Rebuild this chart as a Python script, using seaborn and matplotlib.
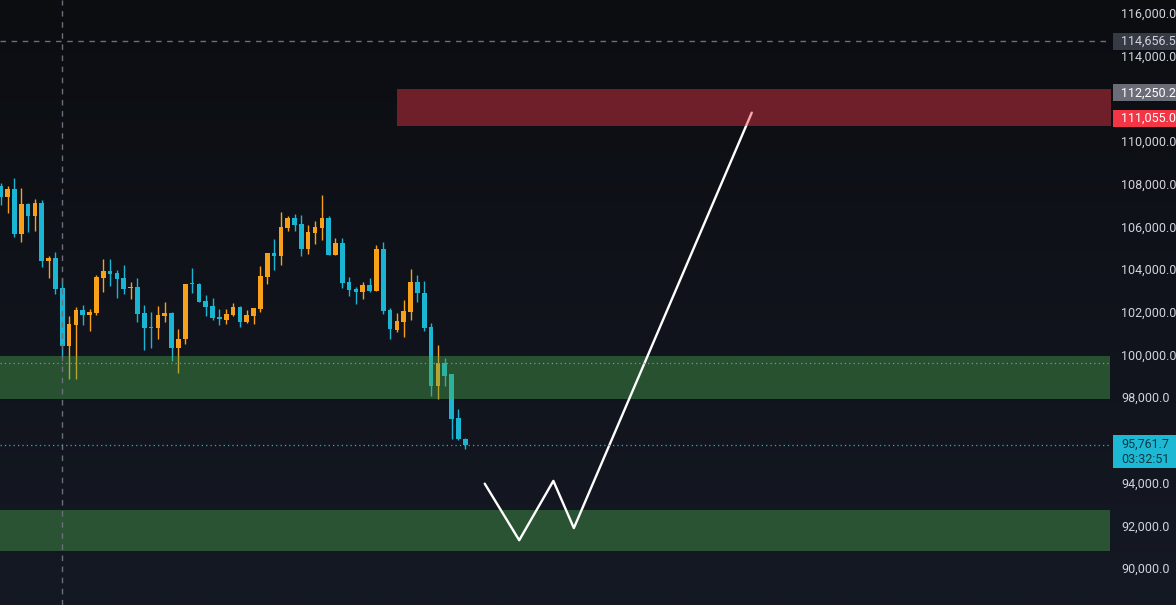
import numpy as np
import matplotlib
matplotlib.use("Agg")
import matplotlib.pyplot as plt
import matplotlib.transforms as mtransforms
from matplotlib.colors import LinearSegmentedColormap
from matplotlib.patches import Rectangle
import seaborn as sns

# ---- candle data (one bar per candle) ----
opens = [107886, 107371, 107746, 105639, 107043, 106481, 107090, 104375, 104515, 103110,
         100395, 101378, 102080, 101846, 101940, 103579, 103906, 103813, 103579, 103110,
         103157, 101940, 101285, 101238, 101800, 101940, 100301, 100723, 103345, 103298,
         102502, 102268, 101753, 101613, 101846, 102221, 101519, 101800, 102127, 103626,
         104750, 104609, 105920, 106388, 106107, 104937, 105686, 105920, 106388, 104656,
         105218, 103391, 103064, 102923, 103251, 102970, 104937, 102080, 101144, 101519,
         101987, 103391, 102877, 101285, 98522, 99599, 99084, 97024, 96041]
closes = [107371, 107746, 105639, 107043, 106481, 107090, 104375, 104515, 103064, 100395,
          101425, 102080, 101846, 101987, 103626, 103906, 103766, 103532, 103064, 103157,
          101893, 101238, 101238, 101846, 101940, 100301, 100723, 103298, 103298, 102455,
          102221, 101706, 101659, 101893, 102221, 101519, 101846, 102174, 103672, 104750,
          104609, 105967, 106388, 106060, 104937, 105732, 105967, 106388, 104656, 105218,
          103345, 103017, 102923, 103251, 102970, 104937, 102034, 101191, 101566, 102034,
          103391, 102877, 101238, 98522, 99599, 98991, 96977, 96041, 95762]
highs = [108027, 107886, 108261, 107793, 107090, 107277, 107231, 104609, 104796, 103579,
         101800, 102221, 102315, 102127, 103719, 104468, 104468, 103954, 104188, 103391,
         103579, 102315, 101987, 102268, 102455, 101987, 101191, 103298, 104047, 103345,
         102783, 102642, 102127, 102127, 102409, 102268, 102080, 102174, 104141, 104750,
         105405, 106669, 106481, 106576, 106529, 106060, 106248, 107465, 106481, 105452,
         105452, 103626, 103157, 103391, 103579, 105124, 105264, 102174, 101940, 102549,
         104000, 103719, 103439, 101472, 100442, 99833, 99084, 97446, 96088]
lows = [106997, 106622, 105498, 105264, 105732, 105779, 104094, 103579, 102829, 99880,
        98850, 98850, 101378, 101097, 101846, 102923, 103204, 102642, 102829, 102596,
        101519, 100208, 100301, 100723, 101519, 99693, 99131, 100489, 102877, 102455,
        101800, 101613, 101378, 101425, 101800, 101285, 101472, 101425, 101987, 103298,
        103954, 104188, 105779, 105779, 104609, 104703, 105171, 105358, 104656, 104656,
        103110, 102736, 102362, 102596, 102923, 102970, 101893, 100723, 101051, 100817,
        101613, 102455, 101097, 98054, 97914, 98522, 96041, 95994, 95573]

# ---- drawn projection path (bar index, price) ----
path_bar = [70.85, 75.9, 80.9, 83.9, 109.95]
path_price = [93950, 91300, 94080, 91870, 111320]

# ---- zones ----
green_zones = [(97890, 99930), (90800, 92720)]
red_zone = (110710, 112430)
red_zone_start = 57.96

# ---- levels / labels ----
y_ticks = list(range(90000, 116001, 2000))
hidden_ticks = [112000, 96000]  # covered by price boxes on the scale
crosshair_price = 114656.5
crosshair_bar = 9
grey_level = 99600
last_price = 95761.7
countdown = "03:32:51"
label_grey = 112250.2
label_red = 111055.0

ORANGE = "#f8a01a"
CYAN = "#19b5d2"

sns.set_theme(style="dark")
plt.rcParams["font.family"] = ["Roboto", "DejaVu Sans"]

fig = plt.figure(figsize=(11.76, 6.05), dpi=100)

# background gradient
bg = fig.add_axes([0, 0, 1, 1])
cmap = LinearSegmentedColormap.from_list("bg", ["#151924", "#0b0d11"])
bg.imshow(np.linspace(0, 1, 256).reshape(-1, 1), aspect="auto", cmap=cmap,
          extent=[0, 1, 0, 1], origin="lower")
bg.set_axis_off()

ax = fig.add_axes([0, 0, 1110 / 1176, 1])
ax.set_facecolor("none")
ax.patch.set_alpha(0)

x = np.arange(len(opens))
o = np.array(opens, float)
c = np.array(closes, float)
colors = [ORANGE if cc >= oo else CYAN for oo, cc in zip(o, c)]
ax.vlines(x, lows, highs, colors=colors, lw=1.0, zorder=2)
ax.bar(x, np.maximum(np.abs(c - o), 45), bottom=np.minimum(o, c), width=0.68,
       color=colors, linewidth=0, zorder=3)

# zones: green above candles, path above green, red above path
for lo, hi in green_zones:
    ax.axhspan(lo, hi, color="#4caf50", alpha=0.4, lw=0, zorder=4)
sns.lineplot(x=path_bar, y=path_price, sort=False, color="white", lw=1.7, ax=ax, zorder=5)
ax.fill_between([red_zone_start, 170], red_zone[0], red_zone[1], color="#f23645",
                alpha=0.43, lw=0, zorder=6)

# lines
ax.axhline(crosshair_price, color="#6b6f7a", lw=1, ls=(0, (4, 4)), zorder=7)
ax.axvline(crosshair_bar, color="#6b6f7a", lw=1, ls=(0, (4, 4)), zorder=7)
ax.axhline(grey_level, color="#8a8f98", lw=0.9, ls=(0, (1, 2.5)), zorder=7)
ax.axhline(last_price, color=CYAN, lw=0.9, ls=(0, (1, 2.5)), zorder=7)

ax.set_xlim(-0.12, 162.4)
ax.set_ylim(88268, 116595)
ax.yaxis.tick_right()
ax.set_yticks(y_ticks)
ax.set_yticklabels(["" if v in hidden_ticks else f"{v:,.1f}" for v in y_ticks])
ax.set_xticks([])
ax.tick_params(axis="y", length=0, pad=8, labelsize=9, labelcolor="#d1d4dc")
ax.grid(False)
for s in ax.spines.values():
    s.set_visible(False)

# price labels on the axis
trans = mtransforms.blended_transform_factory(fig.transFigure, ax.transData)
box_x = 1113 / 1176
box_w = 63 / 1176
tx = 1121 / 1176


def price_box(price, text, fc, tc, half=400):
    ax.add_patch(Rectangle((box_x, price - half), box_w, 2 * half, transform=trans,
                           facecolor=fc, edgecolor="none", clip_on=False, zorder=10))
    ax.text(tx, price, text, transform=trans, color=tc, fontsize=9,
            va="center", ha="left", clip_on=False, zorder=11)


price_box(crosshair_price, f"{crosshair_price:,.1f}", "#363a45", "#d1d4dc")
price_box(label_grey, f"{label_grey:,.1f}", "#6a6d78", "#ffffff")
price_box(label_red, f"{label_red:,.1f}", "#f23645", "#ffffff")

# last price box with countdown
ax.add_patch(Rectangle((box_x, last_price - 1080), box_w, 1545, transform=trans,
                       facecolor="#1cb8d4", edgecolor="none", clip_on=False, zorder=10))
ax.text(tx, last_price + 40, f"{last_price:,.1f}", transform=trans, color="#0b3a47",
        fontsize=9, va="center", ha="left", clip_on=False, zorder=11)
ax.text(tx, last_price - 700, countdown, transform=trans, color="#0b3a47",
        fontsize=9, va="center", ha="left", clip_on=False, zorder=11)

fig.savefig("out.png", dpi=100)
